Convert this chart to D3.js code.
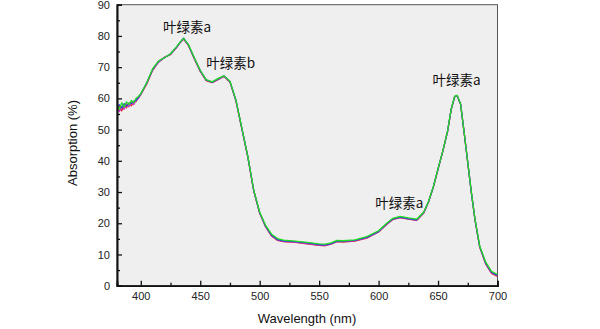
<!DOCTYPE html>
<html><head><meta charset="utf-8">
<script src="https://cdn.jsdelivr.net/npm/d3@7/dist/d3.min.js"></script>
<style>
body{margin:0;background:#fff;}
svg{display:block;}
</style></head>
<body><svg id="c" width="600" height="329"></svg>
<script>
const wavelengths = [380,382,384,386,388,390,392,394,396,398,400,405,410,415,420,425,430,433,436,440,445,450,455,460,465,470,475,480,485,490,495,500,505,510,515,520,530,540,550,555,560,565,570,580,590,600,607,612,618,625,632,638,642,646,650,654,658,661,664,666,669,672,675,678,681,685,690,695,700];

const redValues = [56.5,57.5,56.0,57.8,57.0,58.5,57.6,58.9,59.0,60.2,61.2,64.6,69.0,71.8,73.2,74.0,76.3,77.8,79.0,77.0,72.7,68.6,65.7,65.0,66.0,67.0,65.2,59.2,50.2,41.2,30.3,23.2,18.8,15.9,14.5,14.1,13.9,13.4,12.9,12.8,13.3,14.1,14.0,14.3,15.2,17.2,19.7,21.2,21.8,21.3,20.9,23.3,26.8,31.5,37.3,43.0,49.3,56.3,60.5,60.8,58.0,48.8,39.3,29.8,21.2,12.4,7.0,3.9,3.0];
const magentaValues = [57.0,55.8,57.3,56.5,58.2,57.3,58.8,58.0,59.5,60.0,61.3,64.8,69.2,71.6,73.0,74.2,76.2,77.9,79.1,77.1,72.8,68.8,65.8,65.1,66.1,67.1,65.3,59.3,50.3,41.3,30.4,23.3,18.9,16.0,14.7,14.2,14.0,13.5,13.0,12.9,13.4,14.2,14.1,14.4,15.3,17.3,19.8,21.3,21.9,21.4,21.0,23.4,26.9,31.6,37.4,43.1,49.4,56.4,60.6,60.9,58.1,48.9,39.4,29.9,21.3,12.5,7.2,4.1,3.2];
const blueValues = [57.3,58.0,57.0,58.3,57.6,58.4,58.4,59.1,59.3,60.4,61.4,65.0,69.3,71.9,73.1,74.2,76.4,77.9,79.3,77.2,72.9,68.9,65.9,65.2,66.2,67.2,65.4,59.4,50.4,41.4,30.5,23.4,19.1,16.2,14.8,14.4,14.1,13.7,13.2,13.1,13.5,14.3,14.3,14.5,15.5,17.4,19.9,21.4,22.0,21.5,21.1,23.5,26.9,31.6,37.4,43.1,49.4,56.4,60.6,60.9,58.1,48.9,39.4,29.9,21.4,12.6,7.3,4.3,3.3];
const greenValues = [57.8,56.5,58.6,57.2,58.9,58.0,59.3,58.6,60.0,60.6,61.5,65.0,69.5,72.0,73.0,74.3,76.5,78.0,79.2,77.3,73.0,69.0,66.0,65.3,66.4,67.2,65.5,59.5,50.5,41.5,30.6,23.6,19.3,16.5,15.1,14.6,14.3,13.9,13.4,13.3,13.7,14.5,14.4,14.7,15.7,17.6,20.1,21.6,22.2,21.7,21.3,23.6,27.0,31.7,37.5,43.2,49.5,56.5,60.7,61.0,58.2,49.0,39.5,30.0,21.5,12.8,7.6,4.6,3.6];

const seriesNames = ["red","magenta","blue","green"];
const seriesColors = ["#e02828","#d028c8","#2848d8","#22dd22"];
const seriesValues = [redValues, magentaValues, blueValues, greenValues];

const xTicks = [400,450,500,550,600,650,700];
const xMinorTicks = [425,475,525,575,625,675];
const yTicks = [0,10,20,30,40,50,60,70,80,90];
const yMinorTicks = [5,15,25,35,45,55,65,75,85];

const annotations = [
  {text:"叶绿素a", w:439, v:81.3},
  {text:"叶绿素b", w:475.6, v:69.7},
  {text:"叶绿素a", w:665.5, v:64.3},
  {text:"叶绿素a", w:617.5, v:24.9}
];

const xLabel = "Wavelength (nm)";
const yLabel = "Absorption (%)";

const svg = d3.select("#c");
const m = {l:117, r:497.5, t:4.7, b:285.7};
const x = d3.scaleLinear().domain([380,700]).range([m.l, m.r]);
const y = d3.scaleLinear().domain([0,90]).range([m.b, m.t]);

svg.append("rect").attr("x",m.l).attr("y",m.t).attr("width",m.r-m.l).attr("height",m.b-m.t)
  .attr("fill","#efefef").attr("stroke","#555").attr("stroke-width",1);

const line = d3.line().x((d,i)=>x(wavelengths[i])).y(d=>y(d));
svg.append("defs").append("clipPath").attr("id","clip").append("rect")
  .attr("x",m.l).attr("y",m.t).attr("width",m.r-m.l).attr("height",m.b-m.t);
const g = svg.append("g").attr("clip-path","url(#clip)");
seriesValues.forEach((vals,k)=>{
  g.append("path").datum(vals).attr("d",line).attr("fill","none")
   .attr("stroke",seriesColors[k]).attr("stroke-width",1.3).attr("stroke-linejoin","round");
});

const fontNum = "'Liberation Sans', Arial, sans-serif";

const xAxis = svg.append("g").attr("transform",`translate(0,${m.b})`)
  .call(d3.axisBottom(x).tickValues(xTicks).tickSize(-5).tickPadding(7).tickFormat(d3.format("d")));
const xMinor = svg.append("g").attr("transform",`translate(0,${m.b})`)
  .call(d3.axisBottom(x).tickValues(xMinorTicks).tickSize(-3).tickFormat(""));
const yAxis = svg.append("g").attr("transform",`translate(${m.l},0)`)
  .call(d3.axisLeft(y).tickValues(yTicks).tickSize(-5).tickPadding(7).tickFormat(d3.format("d")));
const yMinor = svg.append("g").attr("transform",`translate(${m.l},0)`)
  .call(d3.axisLeft(y).tickValues(yMinorTicks).tickSize(-3).tickFormat(""));

[xAxis,xMinor,yAxis,yMinor].forEach(a=>{
  a.select(".domain").attr("stroke","#111").attr("stroke-width",1.6);
  a.selectAll(".tick line").attr("stroke","#111").attr("stroke-width",1.3);
  a.selectAll("text").attr("font-family",fontNum).attr("font-size",11).attr("fill","#222");
});

svg.append("text").attr("x",307).attr("y",323).attr("text-anchor","middle")
  .attr("font-family",fontNum).attr("font-size",13).attr("fill","#111").text(xLabel);
svg.append("text").attr("transform","translate(77,143) rotate(-90)").attr("text-anchor","middle")
  .attr("font-family",fontNum).attr("font-size",13).attr("fill","#111").text(yLabel);

annotations.forEach(a=>{
  svg.append("text").attr("x",x(a.w)).attr("y",y(a.v)).attr("text-anchor","middle")
    .attr("font-family","'Noto Sans CJK SC', sans-serif").attr("font-size",13.5).attr("fill","#111").text(a.text);
});
</script></body></html>
